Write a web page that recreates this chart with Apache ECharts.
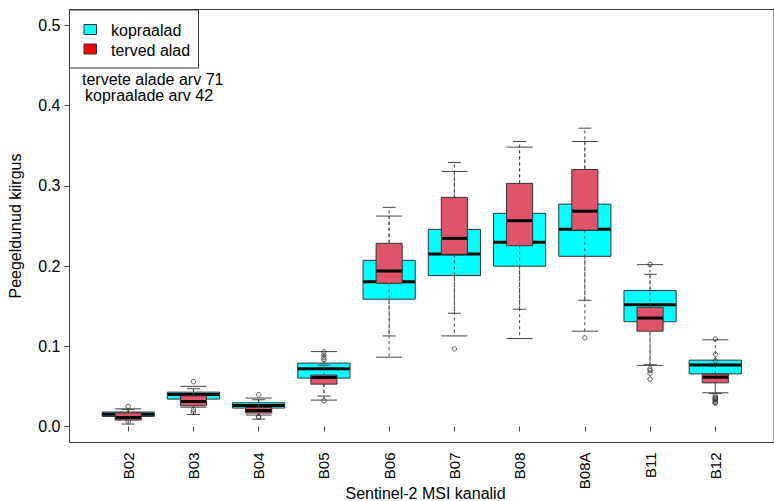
<!DOCTYPE html>
<html>
<head>
<meta charset="utf-8">
<script src="https://cdn.jsdelivr.net/npm/echarts@6/dist/echarts.min.js"></script>
<style>
html,body{margin:0;padding:0;background:#fff;}
#chart{width:774px;height:501px;}
</style>
</head>
<body>
<div id="chart"></div>
<script>
// ---- data ----
const categories = ['B02','B03','B04','B05','B06','B07','B08','B08A','B11','B12'];
const yTicks = [0, 0.1, 0.2, 0.3, 0.4, 0.5];

// kopraalad (cyan)
const kopLow  = [0.009, 0.024, 0.0142, 0.0329, 0.0864, 0.1129, 0.1096, 0.1188, 0.0762, 0.042];
const kopQ1   = [0.0125, 0.0341, 0.0229, 0.0603, 0.1587, 0.1881, 0.1999, 0.2122, 0.1306, 0.0656];
const kopMed  = [0.0153, 0.0399, 0.0262, 0.0721, 0.1806, 0.2151, 0.2296, 0.2458, 0.1517, 0.0768];
const kopQ3   = [0.018, 0.0428, 0.0295, 0.079, 0.2072, 0.2458, 0.2658, 0.2773, 0.1696, 0.0827];
const kopHigh = [0.022, 0.050, 0.0354, 0.0934, 0.2624, 0.3180, 0.3484, 0.3554, 0.2018, 0.108];
const kopOut  = [[1,0.025],[1,0.006],[2,0.056],[2,0.021],[2,0.018],[3,0.0395],[3,0.0125],[3,0.0112],[6,0.0968],[8,0.1105]];

// terved alad (red)
const terLow  = [0.003, 0.015, 0.0092, 0.0379, 0.1129, 0.1412, 0.1462, 0.1574, 0.0770, 0.041];
const terQ1   = [0.008, 0.0258, 0.0167, 0.0528, 0.1786, 0.2147, 0.2254, 0.2449, 0.1188, 0.0544];
const terMed  = [0.0112, 0.0311, 0.0199, 0.0610, 0.1939, 0.2346, 0.2566, 0.2685, 0.1352, 0.0615];
const terQ3   = [0.017, 0.0382, 0.0237, 0.0640, 0.2284, 0.2857, 0.3031, 0.3205, 0.1487, 0.0653];
const terHigh = [0.021, 0.047, 0.0333, 0.0765, 0.2733, 0.3293, 0.3554, 0.3720, 0.1898, 0.078];
const terOut  = [[4,0.093],[4,0.089],[4,0.086],[4,0.083],[4,0.032],
                 [9,0.202],[9,0.0718],[9,0.0697],[9,0.0664],[9,0.059],
                 [10,0.109],[10,0.090],[10,0.082],[10,0.038],[10,0.036],[10,0.035],[10,0.034],[10,0.033],[10,0.031],[10,0.030],[10,0.029]];

// ---- build ----
const FONT = '"Liberation Sans", Arial, sans-serif';
function rows(lo, q1, md, q3, hi){
  return categories.map((c,i)=>[i+1, lo[i], q1[i], md[i], q3[i], hi[i]]);
}
function makeRender(boxW, fill){
  return function(params, api){
    const x = api.value(0);
    const pLo = api.coord([x, api.value(1)]);
    const pQ1 = api.coord([x, api.value(2)]);
    const pMd = api.coord([x, api.value(3)]);
    const pQ3 = api.coord([x, api.value(4)]);
    const pHi = api.coord([x, api.value(5)]);
    const w = api.size([boxW, 0])[0];
    const cx = pMd[0], half = w/2, cap = w/4;
    const wc = '#444';
    return {
      type: 'group',
      children: [
        {type:'rect', shape:{x:cx-half, y:pQ3[1], width:w, height:pQ1[1]-pQ3[1]}, style:{fill:fill, stroke:null}},
        {type:'line', shape:{x1:cx-half, y1:pMd[1], x2:cx+half, y2:pMd[1]}, style:{stroke:'#000', lineWidth:3}},
        {type:'line', shape:{x1:cx, y1:pQ3[1], x2:cx, y2:pHi[1]}, style:{stroke:wc, lineWidth:1, lineDash:[3,3]}},
        {type:'line', shape:{x1:cx, y1:pQ1[1], x2:cx, y2:pLo[1]}, style:{stroke:wc, lineWidth:1, lineDash:[3,3]}},
        {type:'line', shape:{x1:cx-cap, y1:pHi[1], x2:cx+cap, y2:pHi[1]}, style:{stroke:wc, lineWidth:1}},
        {type:'line', shape:{x1:cx-cap, y1:pLo[1], x2:cx+cap, y2:pLo[1]}, style:{stroke:wc, lineWidth:1}},
        {type:'rect', shape:{x:cx-half, y:pQ3[1], width:w, height:pQ1[1]-pQ3[1]}, style:{fill:null, stroke:'#333', lineWidth:1}}
      ]
    };
  };
}
function txt(text, x, y, align, rot){
  return {type:'text', x:x, y:y, rotation: rot||0, silent:true,
    style:{text:text, fill:'#000', font:'16px '+FONT, textAlign:align, textVerticalAlign:'middle', align:align, verticalAlign:'middle'}};
}

const chart = echarts.init(document.getElementById('chart'), null, {renderer:'svg', width:774, height:501});
chart.setOption({
  animation:false,
  backgroundColor:'#fff',
  grid:{left:69.5, right:-8, top:9.5, bottom:58.5, show:true, borderColor:'#444', borderWidth:1, backgroundColor:'transparent'},
  xAxis:{
    type:'value', min:0.1, max:10.9,
    axisLine:{show:false},
    splitLine:{show:false},
    axisTick:{show:true, length:5, lineStyle:{color:'#444'}, customValues: categories.map((c,i)=>i+1)},
    axisLabel:{rotate:90, margin:10, fontSize:15, fontFamily:FONT, color:'#000',
      customValues: categories.map((c,i)=>i+1),
      formatter:(v)=>categories[Math.round(v)-1] || ''}
  },
  yAxis:{
    type:'value', min:-0.02, max:0.52,
    axisLine:{show:false},
    splitLine:{show:false},
    axisTick:{show:true, length:5, lineStyle:{color:'#444'}, customValues:yTicks},
    axisLabel:{margin:9, fontSize:16, fontFamily:FONT, color:'#000', customValues:yTicks,
      formatter:(v)=>v.toFixed(1)}
  },
  series:[
    {type:'custom', name:'kopraalad', renderItem:makeRender(0.8, '#00FFFF'), data:rows(kopLow,kopQ1,kopMed,kopQ3,kopHigh), encode:{x:0, y:[1,2,3,4,5]}, silent:true, z:2},
    {type:'scatter', name:'kopraalad out', data:kopOut, symbol:'circle', symbolSize:4.5, itemStyle:{color:'rgba(0,0,0,0)', borderColor:'#333', borderWidth:1}, silent:true, z:3},
    {type:'custom', name:'terved alad', renderItem:makeRender(0.4, '#DF536B'), data:rows(terLow,terQ1,terMed,terQ3,terHigh), encode:{x:0, y:[1,2,3,4,5]}, silent:true, z:4},
    {type:'scatter', name:'terved alad out', data:terOut, symbol:'circle', symbolSize:4.5, itemStyle:{color:'rgba(0,0,0,0)', borderColor:'#333', borderWidth:1}, silent:true, z:5}
  ],
  graphic:[
    {type:'rect', shape:{x:69.5, y:10, width:129, height:58}, style:{fill:'#fff', stroke:'#333', lineWidth:1}, z:10, silent:true},
    {type:'rect', shape:{x:84, y:24.5, width:12.5, height:10}, style:{fill:'#00FFFF', stroke:'#333', lineWidth:1}, z:11, silent:true},
    {type:'rect', shape:{x:84, y:44, width:12.5, height:10}, style:{fill:'#FF0000', stroke:'#333', lineWidth:1}, z:11, silent:true},
    Object.assign(txt('kopraalad', 111, 30.5, 'left'), {z:11}),
    Object.assign(txt('terved alad', 111, 50, 'left'), {z:11}),
    Object.assign(txt('tervete alade arv 71', 82, 79, 'left'), {z:11}),
    Object.assign(txt('kopraalade arv 42', 85, 95.5, 'left'), {z:11}),
    txt('Peegeldunud kiirgus', 15, 226, 'center', Math.PI/2),
    txt('Sentinel-2 MSI kanalid', 425.5, 493, 'center')
  ]
});
</script>
</body>
</html>
